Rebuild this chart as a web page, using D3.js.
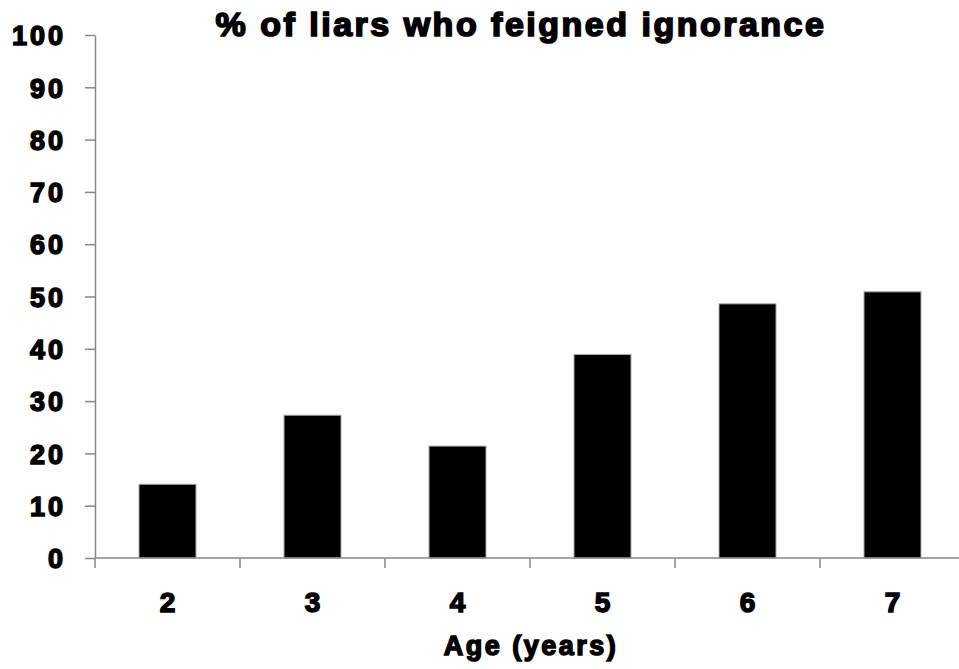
<!DOCTYPE html>
<html>
<head>
<meta charset="utf-8">
<script src="https://cdn.jsdelivr.net/npm/d3@7"></script>
<style>
  body { margin: 0; background: #fff; }
  text { font-family: "Liberation Sans", Arial, sans-serif; font-weight: bold; fill: #000; }
</style>
</head>
<body>
<div id="chart"></div>
<script>
// data
var ages = ["2", "3", "4", "5", "6", "7"];
var pctFeigned = [14.1, 27.3, 21.4, 38.9, 48.6, 50.9];
var yTicks = [0, 10, 20, 30, 40, 50, 60, 70, 80, 90, 100];

var W = 959, H = 669;
var margin = {top: 35, right: -6, bottom: 111, left: 95},
    width = W - margin.left - margin.right,
    height = H - margin.top - margin.bottom;

var svg = d3.select("#chart")
  .append("svg")
  .attr("width", W)
  .attr("height", H);

var g = svg.append("g")
  .attr("transform", "translate(" + margin.left + "," + margin.top + ")");

// scales
var x = d3.scaleBand()
  .domain(ages)
  .range([0, width])
  .paddingInner(0.607)
  .paddingOuter(0.3035);

var xCat = d3.scaleBand().domain(ages).range([0, width]);

var y = d3.scaleLinear()
  .domain([0, 100])
  .range([height, 0]);

// bars
g.selectAll("rect.bar")
  .data(pctFeigned)
  .enter()
  .append("rect")
  .attr("class", "bar")
  .attr("x", function(d, i) { return x(ages[i]); })
  .attr("y", function(d) { return y(d); })
  .attr("width", x.bandwidth())
  .attr("height", function(d) { return y(0) - y(d); })
  .attr("fill", "#000")
  .attr("stroke", "#aaa")
  .attr("stroke-width", 1);

// y axis
var yAxis = g.append("g")
  .call(d3.axisLeft(y).tickValues(yTicks).tickSize(10).tickPadding(19).tickSizeOuter(0));
yAxis.select(".domain").attr("stroke", "#888").attr("stroke-width", 1.5);
yAxis.selectAll(".tick line").attr("stroke", "#888").attr("stroke-width", 1.5);
yAxis.selectAll("text")
  .attr("font-size", 27)
  .attr("font-family", "Liberation Sans, Arial, sans-serif")
  .attr("font-weight", "bold")
  .attr("fill", "#000")
  .attr("stroke", "#000")
  .attr("stroke-width", 1.5)
  .attr("letter-spacing", 3)
  .attr("dy", "0.36em");

// x axis: ticks at category boundaries
var boundaries = ages.map(function(a) { return xCat(a); }).concat([width]);
var xAxisG = g.append("g").attr("transform", "translate(0," + height + ")");
xAxisG.append("line")
  .attr("x1", 0).attr("x2", width)
  .attr("stroke", "#888").attr("stroke-width", 1.5);
xAxisG.selectAll("line.tk")
  .data(boundaries)
  .enter()
  .append("line")
  .attr("class", "tk")
  .attr("x1", function(d) { return d; })
  .attr("x2", function(d) { return d; })
  .attr("y1", 0).attr("y2", 10)
  .attr("stroke", "#888").attr("stroke-width", 1.5);
xAxisG.selectAll("text.lbl")
  .data(ages)
  .enter()
  .append("text")
  .attr("class", "lbl")
  .attr("x", function(d) { return xCat(d) + xCat.bandwidth() / 2; })
  .attr("y", 54)
  .attr("text-anchor", "middle")
  .attr("font-size", 28)
  .attr("stroke", "#000")
  .attr("stroke-width", 1.5)
  .text(function(d) { return d; });

// axis title
svg.append("text")
  .attr("x", 531)
  .attr("y", 655)
  .attr("text-anchor", "middle")
  .attr("font-size", 27)
  .attr("stroke", "#000")
  .attr("stroke-width", 1.5)
  .attr("letter-spacing", 2.5)
  .text("Age (years)");

// title
svg.append("text")
  .attr("x", 521)
  .attr("y", 36)
  .attr("text-anchor", "middle")
  .attr("font-size", 34)
  .attr("stroke", "#000")
  .attr("stroke-width", 1.7)
  .attr("letter-spacing", 2.5)
  .text("% of liars who feigned ignorance");
</script>
</body>
</html>
